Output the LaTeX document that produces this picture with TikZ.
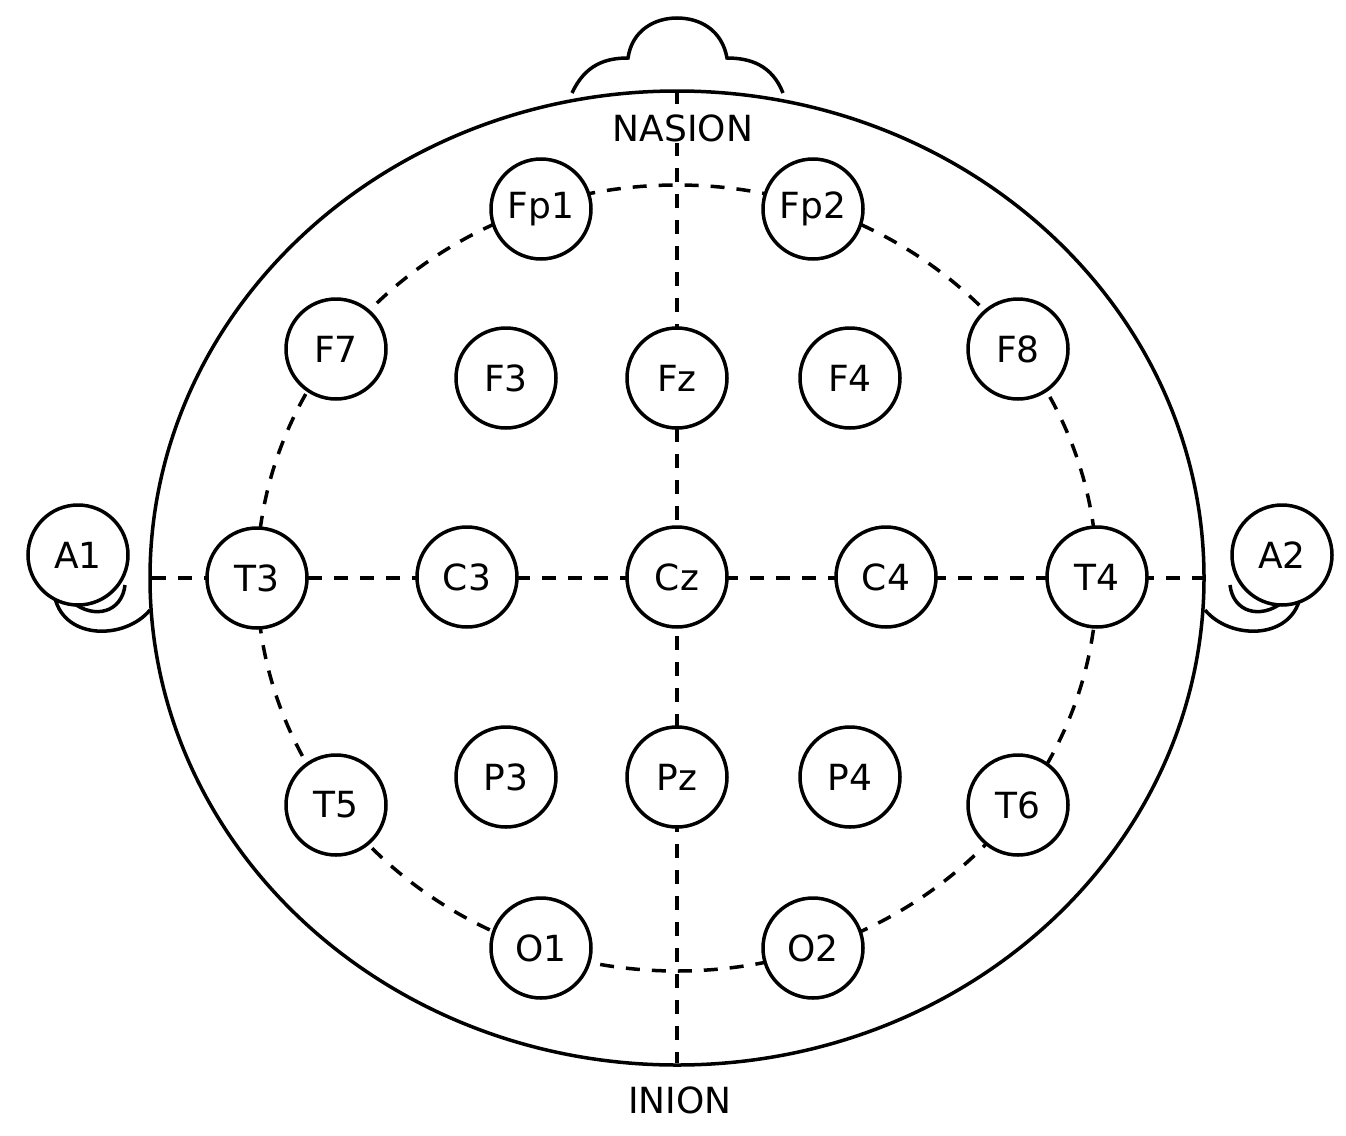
\documentclass[tikz,border=0pt]{standalone}
\usepackage{fontspec}
\setmainfont{DejaVu Sans}
\begin{document}
\begin{tikzpicture}[x=1pt,y=-1pt,line width=3.5pt,
  el/.style={circle,draw,fill=white,minimum size=100pt,inner sep=0pt,font=\fontsize{36}{36}\selectfont},
  lab/.style={font=\fontsize{36}{36}\selectfont},
  dl/.style={dashed,dash pattern=on 14pt off 12pt}]
\useasboundingbox (0,0) rectangle (1346,1135);
% nose
\draw (572,93) .. controls (585,65) and (605,58) .. (628,58) .. controls (632,30) and (655,18) .. (677,18) .. controls (700,18) and (722,30) .. (727,58) .. controls (750,58) and (772,65) .. (783,93);
% ears
\draw (150,610) .. controls (125,640) and (65,640) .. (55,598);
\draw (72,602) .. controls (95,620) and (122,612) .. (125,585);
\draw (1205,610) .. controls (1230,640) and (1290,640) .. (1300,598);
\draw (1283,602) .. controls (1260,620) and (1233,612) .. (1230,585);
% head
\draw[fill=white] (677,578) ellipse [x radius=527, y radius=487];
% dashed lines
\draw[dl] (677,578) ellipse [x radius=420, y radius=393];
\coordinate (top) at (677,90);
\coordinate (bot) at (677,1063);
\coordinate (lft) at (152,578);
\coordinate (rgt) at (1203,578);
\draw[dl] (top) -- (bot);
\draw[dl] (lft) -- (rgt);
\node[lab,fill=white,inner sep=1pt] (nas) at (683,128) {NASION};
\node[lab] (ini) at (680,1100) {INION};
\foreach \n/\x/\y in {Fp1/541/209,Fp2/813/209,F7/336/349,F3/506/378,Fz/677/378,F4/850/378,F8/1018/349,
  T3/257/578,C3/467/577,Cz/677/577,C4/886/577,T4/1097/577,A1/78/555,A2/1282/555,
  T5/336/805,P3/506/777,Pz/677/777,P4/850/777,T6/1018/805,O1/541/948,O2/813/948}
  \node[el] (\n) at (\x,\y) {\n};
\end{tikzpicture}
\end{document}
